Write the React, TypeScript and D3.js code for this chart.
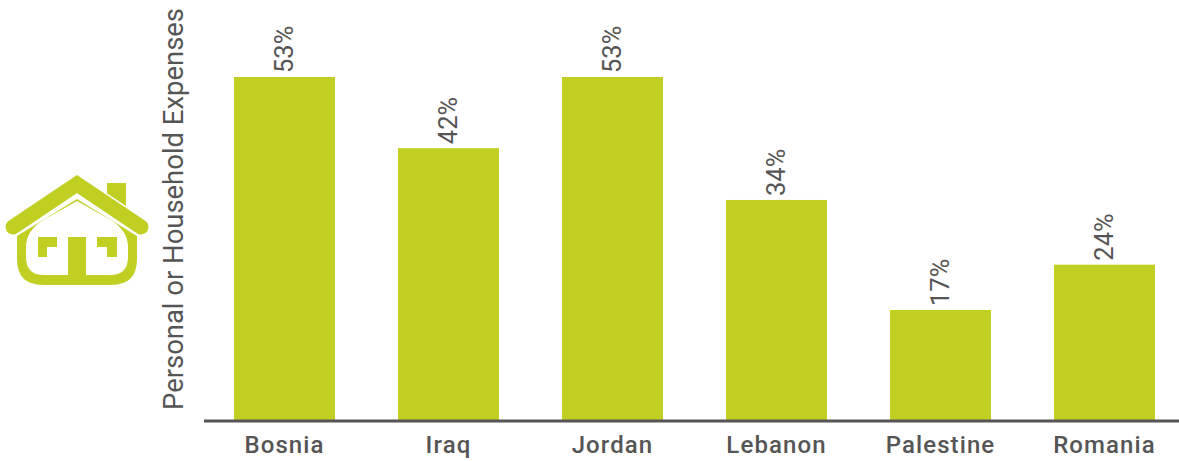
import React from "react";
import * as d3 from "d3";

const categories = ["Bosnia", "Iraq", "Jordan", "Lebanon", "Palestine", "Romania"];
const shares = [53, 42, 53, 34, 17, 24];
const axisTitle = "Personal or Household Expenses";

const WIDTH = 1179;
const HEIGHT = 461;
const BASELINE = 420;
const GREEN = "#c1cf22";
const INK = "#555555";

const x = d3
  .scaleBand<string>()
  .domain(categories)
  .range([202.5, 1186.5])
  .paddingInner(0.384)
  .paddingOuter(0.192);

const y = d3.scaleLinear().domain([0, 53]).range([BASELINE, 77]);

// House pictogram beside the axis title.
function HouseIcon() {
  const body =
    "M17,236 L77,199 L137,236 V259 Q137,285 111,285 H43 Q17,285 17,259 Z " +
    "M77,201 L45,219 Q26,230 26,247 V257 Q26,275 44,275 H110 Q128,275 128,257 V247 Q128,230 109,219 Z";
  return (
    <g fill={GREEN}>
      <path d="M107,183 H126 V208 L107,195 Z" />
      <path d={body} fillRule="evenodd" />
      <path d="M13,227 L77,184 L141,227" fill="none" stroke="#fff" strokeWidth={18} strokeLinejoin="miter" />
      <path d="M13,227 L77,184 L141,227" fill="none" stroke={GREEN} strokeWidth={15} strokeLinecap="round" strokeLinejoin="miter" />
      <rect x={68} y={237} width={18} height={40} />
      <path d="M38,237 H57 V247 H47 V257 H38 Z" />
      <path d="M97,237 H117 V257 H107 V247 H97 Z" />
    </g>
  );
}

export default function App() {
  return (
    <svg
      width={WIDTH}
      height={HEIGHT}
      viewBox={`0 0 ${WIDTH} ${HEIGHT}`}
      style={{ position: "absolute", left: 0, top: 0, background: "#fff" }}
      fontFamily="Roboto, sans-serif"
    >
      <HouseIcon />
      <text
        transform="translate(182.5,410) rotate(-90)"
        fontSize={27}
        fontWeight={400}
        fill={INK}
        textLength={402}
        lengthAdjust="spacingAndGlyphs"
      >
        {axisTitle}
      </text>
      {categories.map((c, i) => (
        <g key={c}>
          <rect
            x={x(c)}
            y={y(shares[i])}
            width={x.bandwidth()}
            height={BASELINE - y(shares[i])}
            fill={GREEN}
          />
          <text
            transform={`translate(${x(c)! + x.bandwidth() / 2 + 8.5},${y(shares[i]) - 4}) rotate(-90)`}
            fontSize={25.5}
            fill={INK}
          >
            {shares[i]}%
          </text>
          <text
            x={x(c)! + x.bandwidth() / 2}
            y={452.5}
            textAnchor="middle"
            fontSize={24}
            fontWeight={500}
            letterSpacing={1.1}
            fill={INK}
          >
            {c}
          </text>
        </g>
      ))}
      <line x1={204} x2={WIDTH} y1={421} y2={421} stroke={INK} strokeWidth={3} />
    </svg>
  );
}
